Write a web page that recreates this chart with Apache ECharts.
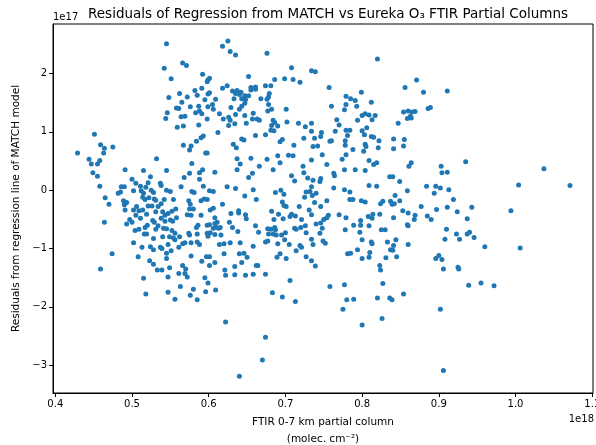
<!DOCTYPE html>
<html>
<head>
<meta charset="utf-8">
<title>Residuals of Regression from MATCH vs Eureka O3 FTIR Partial Columns</title>
<script src="https://cdn.jsdelivr.net/npm/echarts@6/dist/echarts.min.js"></script>
<style>
    html, body { margin: 0; padding: 0; background: #fff; }
    #scatterChart { width: 596px; height: 445px; }
</style>
</head>
<body>
<div id="scatterChart"></div>
<script>
var pointsUpperLeft = [
    [0.545,2.51],[0.542,2.09],[0.551,1.91],[0.548,1.59],[0.546,1.33],[0.544,1.23],[0.451,0.96],[0.459,0.78],
    [0.464,0.72],[0.475,0.74],[0.463,0.64],[0.429,0.64]
];

var pointsUpperCentre = [
    [0.625,2.56],[0.618,2.47],[0.628,2.38],[0.635,2.32],[0.676,2.35],[0.566,2.18],[0.571,2.14],[0.708,2.10],[0.734,2.05],[0.739,2.03],
    [0.592,1.99],[0.601,1.92],[0.599,1.89],[0.598,1.86],[0.652,1.95],[0.686,1.90],[0.699,1.91],[0.710,1.90],[0.719,1.85],
    [0.562,1.66],[0.582,1.71],[0.591,1.75],[0.601,1.67],[0.599,1.65],[0.618,1.75],[0.624,1.79],[0.631,1.70],[0.637,1.71],
    [0.642,1.68],[0.635,1.66],[0.640,1.64],[0.647,1.62],[0.652,1.62],[0.633,1.57],[0.643,1.57],[0.648,1.55],[0.655,1.76],
    [0.655,1.72],[0.661,1.77],[0.661,1.73],[0.674,1.79],[0.681,1.79],[0.679,1.66],[0.678,1.60],[0.668,1.57],[0.676,1.56],
    [0.572,1.60],[0.585,1.63],[0.565,1.51],[0.595,1.55],[0.609,1.56],[0.558,1.41],[0.561,1.40],[0.576,1.43],[0.587,1.44],
    [0.599,1.43],[0.605,1.47],[0.606,1.39],[0.588,1.36],[0.583,1.33],[0.591,1.31],[0.614,1.31],[0.629,1.42],[0.643,1.44],
    [0.647,1.49],[0.640,1.39],[0.635,1.30],[0.647,1.28],[0.658,1.32],[0.657,1.22],[0.649,1.15],[0.663,1.22],[0.678,1.47],
    [0.677,1.36],[0.682,1.39],[0.701,1.39],
    [0.564,1.26],[0.569,1.27],[0.567,1.10],[0.559,1.08],[0.587,1.12],[0.598,1.22],[0.619,1.22],[0.626,1.25],[0.628,1.20],
    [0.634,1.14],[0.626,1.11],[0.666,1.20],[0.684,1.20],[0.686,1.16],[0.682,1.11],[0.690,1.10],[0.681,1.03],[0.685,1.02],
    [0.702,1.17],[0.717,1.15],[0.726,1.09],[0.734,1.15],[0.734,1.01],
    [0.612,0.99],[0.593,0.93],[0.590,0.90],[0.584,0.84],[0.661,0.94],[0.674,0.95],[0.643,0.88],[0.646,0.86],[0.696,0.87],
    [0.693,0.83],[0.724,0.89],[0.738,0.89],[0.632,0.79],[0.636,0.73],[0.567,0.77],[0.577,0.76],[0.575,0.69],[0.596,0.64],
    [0.598,0.64],[0.711,0.77],[0.736,0.75],[0.704,0.60],[0.710,0.59],[0.690,0.59]
];

var pointsUpperRight = [
    [0.820,2.25],[0.757,1.76],[0.871,1.89],[0.856,1.76],[0.880,1.68],[0.911,1.70],[0.799,1.68],[0.779,1.61],[0.785,1.57],
    [0.791,1.54],[0.812,1.51],[0.760,1.44],[0.779,1.47],[0.793,1.44],[0.777,1.38],[0.889,1.42],[0.886,1.40],[0.854,1.34],
    [0.860,1.36],[0.865,1.34],[0.869,1.35],[0.863,1.27],[0.859,1.23],[0.864,1.24],[0.847,1.15],[0.767,1.21],[0.770,1.12],
    [0.794,1.20],[0.800,1.28],[0.804,1.31],[0.809,1.29],[0.817,1.28],[0.813,1.21],[0.806,1.07],[0.800,1.02],[0.803,0.95],
    [0.812,0.92],[0.815,0.91],[0.822,0.85],[0.747,0.99],[0.746,0.92],[0.765,1.01],[0.779,1.03],[0.784,1.03],[0.781,0.94],
    [0.778,0.85],[0.778,0.77],[0.841,0.88],[0.855,0.87],[0.854,0.76],[0.841,0.71],[0.821,0.73],[0.804,0.79],[0.805,0.75],
    [0.788,0.70],[0.802,0.67],[0.779,0.61],[0.748,0.61],[0.758,0.84],[0.760,0.85],[0.742,0.76]
];

var pointsMiddleLeft = [
    [0.444,0.53],[0.447,0.45],[0.455,0.45],[0.458,0.51],[0.449,0.30],[0.455,0.24],[0.458,0.07],[0.465,-0.13],[0.470,-0.24],
    [0.464,-0.55],[0.474,-1.09],[0.459,-1.35],[0.491,0.35],[0.515,0.34],[0.532,0.54],[0.545,0.34],[0.500,0.19],[0.505,0.12],
    [0.524,0.23],[0.521,0.13],[0.518,0.05],[0.486,0.06],[0.490,0.06],[0.485,-0.03],[0.482,-0.05],[0.502,-0.01],[0.512,-0.01],
    [0.511,0.07],[0.515,-0.05],[0.525,0.00],[0.528,-0.04],[0.522,-0.13],[0.514,-0.12],[0.517,-0.16],[0.529,-0.15],[0.531,-0.17],
    [0.537,0.12],[0.538,0.08],[0.545,0.00],[0.550,-0.02],[0.554,-0.16],[0.542,-0.16],[0.538,-0.23],[0.534,-0.28],[0.526,-0.27],
    [0.521,-0.27],[0.489,-0.18],[0.490,-0.25],[0.493,-0.21],[0.506,-0.28],[0.502,-0.34],[0.509,-0.35],[0.514,-0.34],[0.491,-0.34],
    [0.505,-0.43],[0.511,-0.48],[0.519,-0.41],[0.531,-0.37],[0.540,-0.37],[0.543,-0.43],[0.547,-0.40],[0.552,-0.36],[0.557,-0.32],
    [0.550,-0.51],[0.553,-0.53],[0.543,-0.53],[0.538,-0.48],[0.497,-0.50],[0.500,-0.55],[0.493,-0.58],[0.527,-0.52],[0.529,-0.55],
    [0.517,-0.64],[0.520,-0.60],[0.509,-0.67],[0.504,-0.69],[0.516,-0.75],[0.519,-0.75],[0.531,-0.67],[0.534,-0.61],[0.541,-0.65],
    [0.545,-0.66],[0.552,-0.69],[0.556,-0.74],[0.554,-0.82],[0.556,-0.85],[0.528,-0.83],[0.540,-0.80],[0.549,-0.80],[0.502,-0.90],
    [0.513,-0.98],[0.524,-0.97],[0.528,-1.02],[0.537,-0.98],[0.539,-1.00],[0.547,-0.93],[0.551,-1.04],[0.545,-1.08],[0.508,-1.14],
    [0.523,-1.21],[0.528,-1.27],[0.533,-1.37],[0.539,-1.37],[0.545,-1.17],[0.549,-1.33]
];

var pointsMiddleCentre = [
    [0.578,0.46],[0.637,0.54],[0.641,0.45],[0.655,0.55],[0.676,0.53],[0.693,0.47],[0.734,0.52],[0.575,0.29],[0.568,0.22],
    [0.588,0.30],[0.592,0.35],[0.588,0.19],[0.608,0.31],[0.637,0.35],[0.657,0.29],[0.652,0.22],[0.666,0.41],[0.684,0.35],
    [0.708,0.25],[0.723,0.41],[0.724,0.30],[0.712,0.16],[0.729,0.21],[0.736,0.17],[0.734,0.06],[0.732,-0.02],[0.727,-0.03],
    [0.564,0.06],[0.593,0.07],[0.578,-0.02],[0.581,-0.04],[0.601,-0.01],[0.606,-0.02],[0.594,-0.15],[0.598,-0.16],[0.574,-0.18],
    [0.576,-0.24],[0.590,-0.18],[0.624,0.06],[0.635,0.03],[0.658,0.01],[0.647,-0.10],[0.662,-0.16],[0.687,-0.04],[0.694,0.00],
    [0.698,-0.07],[0.696,-0.20],[0.698,-0.26],[0.701,-0.28],[0.718,-0.28],[0.725,-0.12],[0.735,-0.09],[0.738,-0.21],
    [0.558,-0.47],[0.575,-0.32],[0.580,-0.32],[0.572,-0.42],[0.577,-0.43],[0.590,-0.43],[0.602,-0.34],[0.606,-0.31],[0.608,-0.47],
    [0.618,-0.24],[0.629,-0.40],[0.639,-0.35],[0.639,-0.39],[0.648,-0.42],[0.649,-0.49],[0.682,-0.36],[0.691,-0.41],[0.685,-0.50],
    [0.697,-0.49],[0.706,-0.45],[0.708,-0.41],[0.713,-0.44],[0.721,-0.50],[0.731,-0.34],[0.734,-0.42],
    [0.611,-0.55],[0.608,-0.57],[0.601,-0.59],[0.598,-0.60],[0.586,-0.60],[0.584,-0.64],[0.585,-0.75],[0.574,-0.74],[0.575,-0.77],
    [0.562,-0.80],[0.566,-0.92],[0.569,-0.90],[0.561,-0.98],[0.577,-0.90],[0.585,-0.89],[0.588,-0.93],[0.598,-0.74],[0.599,-0.79],
    [0.602,-0.73],[0.606,-0.65],[0.610,-0.64],[0.613,-0.65],[0.615,-0.64],[0.608,-0.76],[0.616,-0.77],[0.627,-0.55],[0.631,-0.64],
    [0.638,-0.71],[0.641,-0.90],[0.661,-0.61],[0.665,-0.72],[0.677,-0.66],[0.681,-0.67],[0.686,-0.64],[0.687,-0.68],[0.684,-0.75],
    [0.688,-0.77],[0.678,-0.75],[0.700,-0.73],[0.695,-0.77],[0.712,-0.65],[0.714,-0.67],[0.720,-0.64],[0.726,-0.61],[0.727,-0.73],
    [0.674,-0.89],[0.677,-0.87],[0.690,-0.92],[0.699,-0.85],[0.705,-0.93],[0.719,-0.95],[0.721,-0.98],[0.736,-0.93],[0.734,-0.84],
    [0.614,-0.93],[0.620,-0.92],[0.628,-0.90],[0.640,-1.09],[0.646,-1.08],[0.650,-1.15],[0.658,-0.96],[0.662,-1.29],[0.664,-1.29],
    [0.620,-1.09],[0.601,-1.14],[0.597,-1.14],[0.591,-1.22],[0.601,-1.29],[0.608,-1.24],[0.621,-1.37],[0.634,-1.31],[0.643,-1.24],
    [0.566,-1.29],[0.570,-1.35],[0.577,-1.13],[0.658,-1.44],[0.648,-1.46],[0.634,-1.45],[0.622,-1.46],[0.674,-1.44],[0.689,-1.15],
    [0.693,-1.09],[0.701,-1.17],[0.714,-1.04],[0.727,-1.14],[0.734,-1.21],[0.739,-1.30],[0.561,-1.43]
];

var pointsMiddleRight = [
    [0.754,0.44],[0.774,0.53],[0.809,0.51],[0.815,0.44],[0.819,0.47],[0.864,0.47],[0.861,0.41],[0.903,0.41],[0.904,0.30],
    [0.911,0.31],[0.777,0.35],[0.791,0.35],[0.804,0.34],[0.746,0.20],[0.745,0.15],[0.763,0.29],[0.764,0.25],[0.836,0.23],
    [0.840,0.23],[0.849,0.15],[0.809,0.08],[0.819,0.07],[0.896,0.07],[0.884,0.07],[0.902,0.04],[0.913,0.01],[0.894,-0.05],
    [0.859,-0.01],[0.777,0.01],[0.784,-0.03],[0.763,0.04],[0.740,-0.05],[0.754,-0.18],[0.784,-0.16],[0.788,-0.16],[0.799,-0.18],
    [0.804,-0.20],[0.824,-0.23],[0.827,-0.19],[0.837,-0.19],[0.842,-0.23],[0.849,-0.18],[0.843,-0.09],[0.839,-0.24],[0.746,-0.28],
    [0.919,-0.16],[0.877,-0.28],[0.897,-0.33],[0.911,-0.29],[0.853,-0.35],[0.860,-0.39],[0.869,-0.43],[0.885,-0.44],[0.890,-0.50],
    [0.868,-0.50],[0.770,-0.42],[0.779,-0.47],[0.756,-0.43],[0.754,-0.47],[0.750,-0.50],[0.746,-0.56],[0.740,-0.58],[0.748,-0.65],
    [0.745,-0.74],[0.808,-0.45],[0.814,-0.41],[0.813,-0.48],[0.823,-0.41],[0.841,-0.47],[0.798,-0.52],[0.798,-0.60],[0.789,-0.60],
    [0.809,-0.61],[0.778,-0.68],[0.797,-0.72],[0.825,-0.68],[0.830,-0.68],[0.859,-0.59],[0.860,-0.61],[0.910,-0.67],[0.749,-0.87],
    [0.752,-0.91],[0.800,-0.85],[0.812,-0.89],[0.813,-0.92],[0.833,-0.89],[0.844,-0.85],[0.841,-0.95],[0.837,-1.02],[0.840,-1.03],
    [0.860,-0.93],[0.908,-0.84],[0.794,-1.02],[0.781,-1.09],[0.785,-1.08],[0.800,-1.17],[0.810,-1.07],[0.809,-1.15],[0.831,-1.16],
    [0.845,-1.14],[0.823,-1.29],[0.824,-1.37],[0.896,-1.17],[0.900,-1.12],[0.904,-1.19],[0.906,-1.35]
];

var pointsFarRight = [
    [0.935,0.49],[1.037,0.37],[1.004,0.09],[1.071,0.08],[0.924,-0.37],[0.943,-0.29],[0.937,-0.49],[0.994,-0.35],[0.923,-0.75],
    [0.927,-0.84],[0.937,-0.75],[0.940,-0.72],[0.946,-0.81],[0.960,-0.97],[1.006,-0.99],[0.925,-1.32],[0.926,-1.35]
];

var pointsLower = [
    [0.515,-1.51],[0.518,-1.78],[0.547,-1.49],[0.547,-1.75],[0.556,-1.87],[0.563,-1.65],[0.569,-1.43],[0.572,-1.49],[0.576,-1.80],
    [0.580,-1.70],[0.585,-1.88],[0.596,-1.74],[0.599,-1.59],[0.595,-1.50],[0.609,-1.71],[0.622,-2.26],[0.674,-2.52],[0.670,-2.91],
    [0.640,-3.19],[0.683,-1.76],[0.696,-1.83],[0.706,-1.55],[0.713,-1.91],[0.758,-1.65],[0.777,-1.62],[0.780,-1.88],[0.789,-1.87],
    [0.775,-2.04],[0.800,-2.31],[0.820,-1.85],[0.827,-1.60],[0.836,-1.85],[0.839,-1.88],[0.854,-1.78],[0.826,-2.20],[0.902,-2.04],
    [0.906,-3.09],[0.939,-1.63],[0.955,-1.59],[0.972,-1.64]
];

var xTicks = [0.4, 0.5, 0.6, 0.7, 0.8, 0.9, 1.0, 1.1];
var yTicks = [-3, -2, -1, 0, 1, 2];

var allPoints = [].concat(pointsUpperLeft, pointsUpperCentre, pointsUpperRight,
    pointsMiddleLeft, pointsMiddleCentre, pointsMiddleRight, pointsFarRight, pointsLower);

var FONT = 'DejaVu Sans';
var INK = '#000';

function minusSign(v) {
    return String(v).replace('-', '\u2212');
}

var dom = document.getElementById('scatterChart');
var scatterChart = echarts.init(dom, null, { renderer: 'canvas' });

var option = {
    animation: false,
    backgroundColor: '#fff',
    textStyle: { fontFamily: FONT, color: INK },
    title: {
        text: 'Residuals of Regression from MATCH vs Eureka O\u2083 FTIR Partial Columns',
        left: 323,
        textAlign: 'center',
        top: 2,
        textStyle: { fontFamily: FONT, fontSize: 13.5, fontWeight: 'normal', color: INK }
    },
    grid: {
        left: 53, right: 3, top: 24, bottom: 52,
        outerBoundsMode: 'none',
        containLabel: false,
        show: true, borderColor: INK, borderWidth: 1, backgroundColor: 'transparent'
    },
    xAxis: {
        type: 'value',
        min: 0.397,
        max: 1.101,
        name: 'FTIR 0-7 km partial column\n(molec. cm\u207B\u00B2)',
        nameLocation: 'middle',
        nameGap: 19,
        nameTextStyle: { fontFamily: FONT, fontSize: 10.5, color: INK, lineHeight: 17 },
        axisLine: { show: true, onZero: false, lineStyle: { color: INK, width: 1 } },
        axisTick: { show: true, length: 4, lineStyle: { color: INK }, customValues: xTicks },
        axisLabel: {
            fontFamily: FONT, fontSize: 10, color: INK, margin: 6,
            customValues: xTicks,
            formatter: function (v) { return v.toFixed(1); }
        },
        splitLine: { show: false }
    },
    yAxis: {
        type: 'value',
        min: -3.477,
        max: 2.85,
        name: 'Residuals from regression line of MATCH model',
        nameLocation: 'middle',
        nameGap: 28,
        nameTextStyle: { fontFamily: FONT, fontSize: 10.5, color: INK },
        axisLine: { show: true, onZero: false, lineStyle: { color: INK, width: 1 } },
        axisTick: { show: true, length: 4, lineStyle: { color: INK }, customValues: yTicks },
        axisLabel: {
            fontFamily: FONT, fontSize: 10, color: INK, margin: 6,
            customValues: yTicks,
            formatter: function (v) { return minusSign(v); }
        },
        splitLine: { show: false }
    },
    graphic: [
        { type: 'text', left: 53, top: 12, style: { text: '1e17', font: '10px "DejaVu Sans"', fill: INK } },
        { type: 'text', right: 2, top: 414, style: { text: '1e18', font: '10px "DejaVu Sans"', fill: INK } }
    ],
    series: [
        {
            name: 'Residuals',
            type: 'scatter',
            data: allPoints,
            symbol: 'circle',
            symbolSize: 5,
            itemStyle: { color: '#1f77b4', opacity: 1 },
            emphasis: { disabled: true },
            silent: true
        }
    ]
};

if (option && typeof option === 'object') {
    scatterChart.setOption(option, false);
}

window.onresize = function () {
    if (scatterChart) {
        scatterChart.resize();
    }
};
</script>
</body>
</html>
